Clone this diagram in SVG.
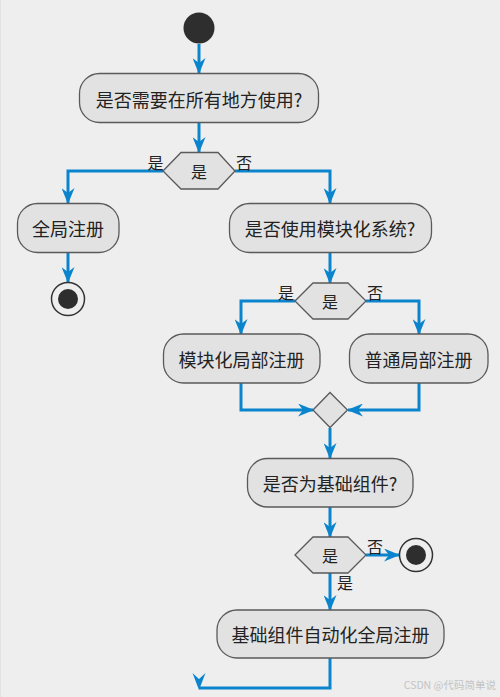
<svg xmlns="http://www.w3.org/2000/svg" width="500" height="697" viewBox="0 0 500 697">
<style>
.bg{fill:#EEEEEE}
.node{fill:#E2E2E2;stroke:#5A5A5A;stroke-width:1.3}
.t{font-family:"Noto Sans CJK SC","Noto Sans",sans-serif;font-size:18px;fill:#222;text-anchor:middle;dominant-baseline:central}
.lt{font-family:"Noto Sans CJK SC","Noto Sans",sans-serif;font-size:16px;fill:#222;text-anchor:middle;dominant-baseline:central}
.c{fill:none;stroke:#0B84CE;stroke-width:3;marker-end:url(#ah)}
.ah{fill:#0B84CE}
.wm{font-family:"Noto Sans CJK SC","Noto Sans",sans-serif;font-size:10.5px;fill:#C4C4C4;text-anchor:end}
</style>
<defs>
<marker id="ah" viewBox="0 0 16 13" refX="15" refY="6.5" markerWidth="16" markerHeight="13" markerUnits="userSpaceOnUse" orient="auto">
<path d="M0,0 L16,6.5 L0,13 L5,6.5 Z" fill="#0B84CE"/>
</marker>
</defs>
<rect class="bg" x="0" y="0" width="500" height="697"/>
<line x1="0.5" y1="0" x2="0.5" y2="697" stroke="#E2E2E2" stroke-width="1"/>

<g id="connectors">
<path class="c" d="M199,44 V73"/>
<path class="c" d="M199,123 V152"/>
<path class="c" d="M163,171 H68 V203"/>
<path class="c" d="M235,171 H330 V203"/>
<path class="c" d="M68,253 V282"/>
<path class="c" d="M330,253 V283"/>
<path class="c" d="M295,301 H241 V334"/>
<path class="c" d="M366,301 H419 V334"/>
<path class="c" d="M241,383 V410 H313"/>
<path class="c" d="M419,383 V410 H348"/>
<path class="c" d="M330,428 V458"/>
<path class="c" d="M330,507 V537"/>
<path class="c" d="M366,555 H399"/>
<path class="c" d="M330,573 V610"/>
<path class="c" d="M330,658 V688 H199" style="marker-end:none"/>
<path class="ah" d="M192.5,673 L199,690 L205.5,673 L199,679 Z"/>
</g>

<g id="start"><circle cx="199" cy="28" r="15.5" fill="#2E2E2E"/></g>

<g id="q1">
<rect class="node" x="79.5" y="73.5" width="239" height="49" rx="20"/>
<text class="t" x="199" y="99">是否需要在所有地方使用?</text>
</g>

<g id="d1">
<polygon class="node" points="163,171 181,152.5 218,152.5 235,171 218,189 181,189"/>
<text class="lt" x="199" y="171">是</text>
<text class="lt" x="155.5" y="162">是</text>
<text class="lt" x="244" y="162">否</text>
</g>

<g id="global">
<rect class="node" x="17.5" y="203.5" width="101.5" height="49" rx="20"/>
<text class="t" x="68" y="228">全局注册</text>
</g>

<g id="end1">
<circle cx="68" cy="299" r="16.5" fill="#EEEEEE" stroke="#333" stroke-width="1.5"/>
<circle cx="68" cy="299" r="10" fill="#2E2E2E"/>
</g>

<g id="q2">
<rect class="node" x="229.5" y="203.5" width="202" height="49" rx="20"/>
<text class="t" x="330" y="228">是否使用模块化系统?</text>
</g>

<g id="d2">
<polygon class="node" points="295,301 313,283 348,283 366,301 348,319 313,319"/>
<text class="lt" x="330" y="301">是</text>
<text class="lt" x="286" y="292">是</text>
<text class="lt" x="375" y="292">否</text>
</g>

<g id="modlocal">
<rect class="node" x="163.5" y="334" width="156.5" height="49" rx="20"/>
<text class="t" x="241.5" y="358.5">模块化局部注册</text>
</g>

<g id="normlocal">
<rect class="node" x="349.5" y="334" width="138.5" height="49" rx="20"/>
<text class="t" x="418.5" y="358.5">普通局部注册</text>
</g>

<g id="merge">
<polygon class="node" points="313,410 330,392.5 347.5,410 330,427.5"/>
</g>

<g id="q3">
<rect class="node" x="247.5" y="458.5" width="165.5" height="48.5" rx="20"/>
<text class="t" x="330" y="482.5">是否为基础组件?</text>
</g>

<g id="d3">
<polygon class="node" points="295,555 313,537 348,537 366,555 348,573 313,573"/>
<text class="lt" x="330" y="555">是</text>
<text class="lt" x="375" y="546">否</text>
<text class="lt" x="345" y="582">是</text>
</g>

<g id="end2">
<circle cx="416" cy="555" r="16.5" fill="#EEEEEE" stroke="#333" stroke-width="1.5"/>
<circle cx="416" cy="555" r="10" fill="#2E2E2E"/>
</g>

<g id="auto">
<rect class="node" x="217" y="610" width="227" height="48" rx="20"/>
<text class="t" x="330.5" y="634">基础组件自动化全局注册</text>
</g>

<text class="wm" x="496" y="689">CSDN @代码简单说</text>
</svg>
